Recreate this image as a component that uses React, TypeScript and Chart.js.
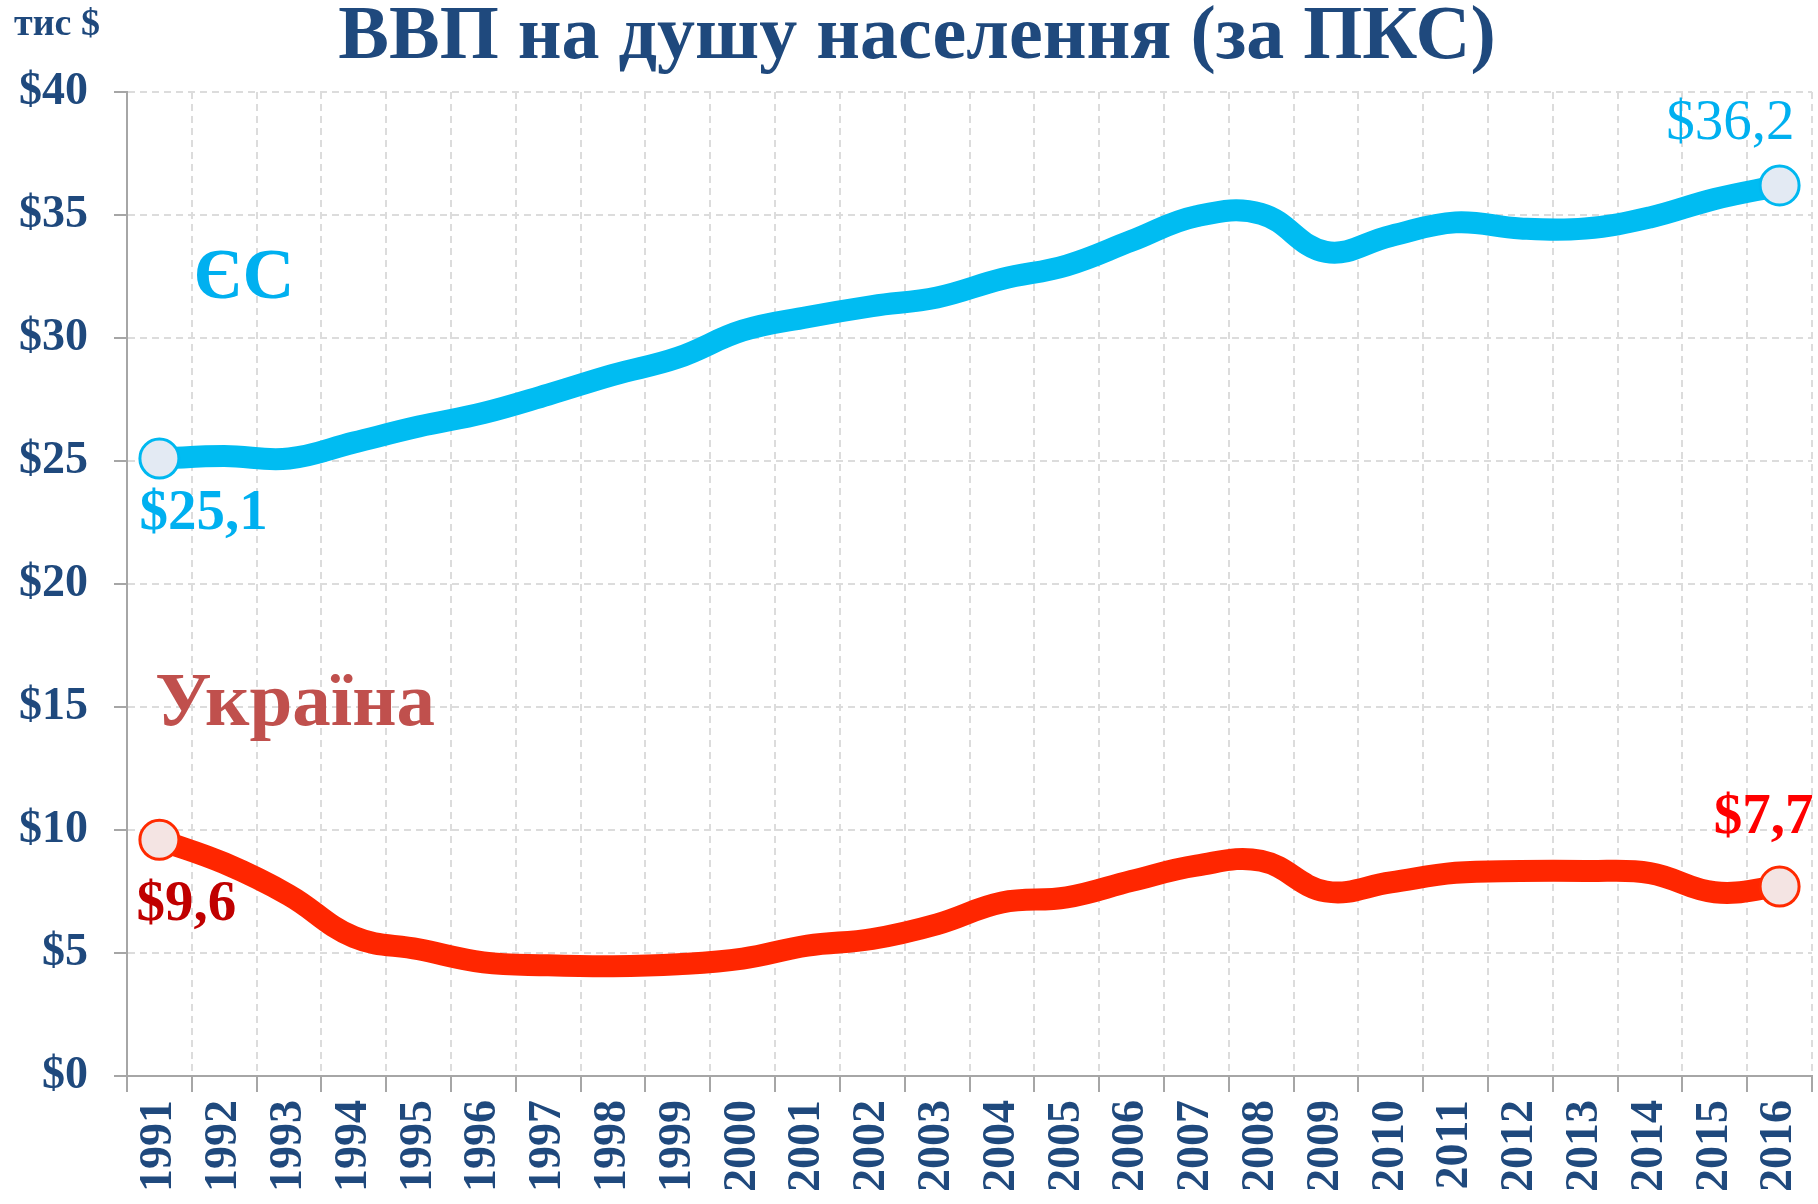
import React, { useEffect, useRef } from "react";
import { Chart, registerables } from "chart.js";

Chart.register(...registerables);

const years = [
  "1991", "1992", "1993", "1994", "1995", "1996", "1997", "1998", "1999", "2000",
  "2001", "2002", "2003", "2004", "2005", "2006", "2007", "2008", "2009", "2010",
  "2011", "2012", "2013", "2014", "2015", "2016",
];

const euValues = [
  25.1, 25.2, 25.1, 25.75, 26.4, 26.95, 27.7, 28.5, 29.2, 30.3,
  30.85, 31.3, 31.65, 32.4, 32.95, 33.95, 34.95, 35.05, 33.5, 34.15,
  34.7, 34.45, 34.45, 34.9, 35.65, 36.2,
];

const uaValues = [
  9.6, 8.65, 7.35, 5.65, 5.15, 4.62, 4.5, 4.46, 4.54, 4.77,
  5.3, 5.57, 6.17, 7.05, 7.26, 7.93, 8.55, 8.75, 7.5, 7.87,
  8.26, 8.33, 8.33, 8.25, 7.47, 7.7,
];

const yTickValues = [0, 5, 10, 15, 20, 25, 30, 35, 40];

const titleText = "ВВП на душу населення (за ПКС)";
const unitText = "тис $";
const euName = "ЄС";
const uaName = "Україна";
const euFirstLabel = "$25,1";
const euLastLabel = "$36,2";
const uaFirstLabel = "$9,6";
const uaLastLabel = "$7,7";

const FONT = "'Liberation Serif', 'DejaVu Serif', serif";
const NAVY = "#1F497D";
const EU_LINE = "#00BCF2";
const UA_LINE = "#FF2600";
const AXIS_GRAY = "#A6A6A6";
const GRID_GRAY = "#DCDCDC";

const endRadii = (n: number, r: number) => years.map((_, i) => (i === 0 || i === n - 1 ? r : 0));

const textPlugin = {
  id: "textPlugin",
  afterDraw(chart: any) {
    const ctx = chart.ctx as CanvasRenderingContext2D;
    const xs = chart.scales.x;
    const ys = chart.scales.y;
    const n = years.length;
    const put = (
      text: string,
      x: number,
      y: number,
      font: string,
      color: string,
      align: CanvasTextAlign,
      baseline: CanvasTextBaseline
    ) => {
      ctx.save();
      ctx.font = font;
      ctx.fillStyle = color;
      ctx.textAlign = align;
      ctx.textBaseline = baseline;
      ctx.fillText(text, x, y);
      ctx.restore();
    };

    // title & unit
    put(titleText, 917, 58, `bold 76px ${FONT}`, NAVY, "center", "alphabetic");
    put(unitText, 14, 35, `bold 38px ${FONT}`, NAVY, "left", "alphabetic");

    // series names
    put(euName, 244, 298, `bold 72px ${FONT}`, "#00B0F0", "center", "alphabetic");
    put(uaName, 295, 725, `bold 77px ${FONT}`, "#C0504D", "center", "alphabetic");

    // value labels anchored to the end points
    const ex0 = xs.getPixelForValue(0);
    const ey0 = ys.getPixelForValue(euValues[0]);
    const ex1 = xs.getPixelForValue(n - 1);
    const ey1 = ys.getPixelForValue(euValues[n - 1]);
    const ux0 = xs.getPixelForValue(0);
    const uy0 = ys.getPixelForValue(uaValues[0]);
    const ux1 = xs.getPixelForValue(n - 1);
    const uy1 = ys.getPixelForValue(uaValues[n - 1]);

    put(euFirstLabel, ex0 - 20, ey0 + 70, `bold 57px ${FONT}`, "#00B0F0", "left", "alphabetic");
    put(euLastLabel, ex1 + 15, ey1 - 46, `57px ${FONT}`, "#00B0F0", "right", "alphabetic");
    put(uaFirstLabel, ux0 - 23, uy0 + 80, `bold 57px ${FONT}`, "#C00000", "left", "alphabetic");
    put(uaLastLabel, ux1 + 34, uy1 - 54, `bold 57px ${FONT}`, "#FF0000", "right", "alphabetic");
  },
};

export default function App() {
  const canvasRef = useRef<HTMLCanvasElement | null>(null);

  useEffect(() => {
    const canvas = canvasRef.current;
    if (!canvas) return;
    const n = years.length;
    const chart = new Chart(canvas, {
      type: "line",
      data: {
        labels: years,
        datasets: [
          {
            label: euName,
            data: euValues,
            borderColor: EU_LINE,
            borderWidth: 22,
            tension: 0.4,
            fill: false,
            pointRadius: endRadii(n, 19.5),
            pointBackgroundColor: "#E3EAF3",
            pointBorderColor: "#00B8F0",
            pointBorderWidth: 3,
            pointHoverRadius: endRadii(n, 19.5),
            borderCapStyle: "round",
            borderJoinStyle: "round",
          },
          {
            label: uaName,
            data: uaValues,
            borderColor: UA_LINE,
            borderWidth: 22,
            tension: 0.4,
            fill: false,
            pointRadius: endRadii(n, 19.5),
            pointBackgroundColor: "#F4E4E3",
            pointBorderColor: "#FF2A00",
            pointBorderWidth: 3,
            pointHoverRadius: endRadii(n, 19.5),
            borderCapStyle: "round",
            borderJoinStyle: "round",
          },
        ],
      },
      options: {
        responsive: false,
        animation: false,
        events: [],
        layout: { autoPadding: false, padding: { top: 92, right: 6, bottom: 0, left: 0 } },
        plugins: {
          legend: { display: false },
          tooltip: { enabled: false },
          title: { display: false },
        },
        scales: {
          x: {
            type: "category",
            offset: true,
            afterFit: (scale: any) => {
              scale.height = 128;
              scale.paddingLeft = 0;
              scale.paddingRight = 0;
            },
            grid: {
              offset: true,
              color: GRID_GRAY,
              lineWidth: 2,
              drawTicks: true,
              tickLength: 16,
              tickColor: AXIS_GRAY,
              tickWidth: 2,
              tickBorderDash: [],
            },
            border: { display: true, color: AXIS_GRAY, width: 2, dash: [7, 5] },
            ticks: {
              autoSkip: false,
              maxRotation: 90,
              minRotation: 90,
              padding: 8,
              color: NAVY,
              font: { family: FONT, size: 46, weight: "bold" },
            },
          },
          y: {
            type: "linear",
            min: 0,
            max: 40,
            afterFit: (scale: any) => {
              scale.width = 127;
              scale.paddingTop = 0;
              scale.paddingBottom = 0;
            },
            afterBuildTicks: (scale: any) => {
              scale.ticks = yTickValues.map((v) => ({ value: v }));
            },
            grid: {
              color: GRID_GRAY,
              lineWidth: 2,
              drawTicks: true,
              tickLength: 13,
              tickColor: AXIS_GRAY,
              tickWidth: 2,
              tickBorderDash: [],
            },
            border: { display: true, color: AXIS_GRAY, width: 2, dash: [7, 5] },
            ticks: {
              padding: 26,
              color: NAVY,
              font: { family: FONT, size: 46, weight: "bold" },
              callback: (v: any) => "$" + v,
            },
          },
        },
      },
      plugins: [textPlugin],
    });
    return () => chart.destroy();
  }, []);

  return (
    <div style={{ position: "fixed", left: 0, top: 0, width: 1818, height: 1204, background: "#fff" }}>
      <canvas ref={canvasRef} width={1818} height={1204} style={{ display: "block" }} />
    </div>
  );
}
